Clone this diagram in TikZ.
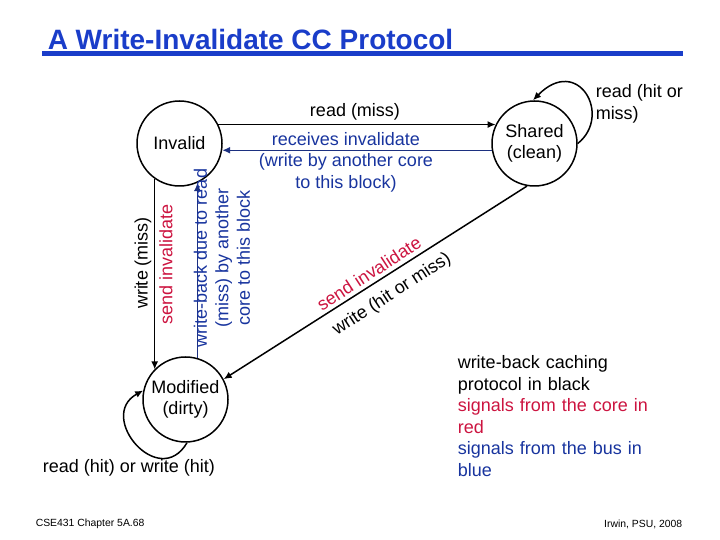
\documentclass[tikz,border=0pt]{standalone}
\usepackage{fontspec}
\setmainfont{Liberation Sans}
\usetikzlibrary{arrows.meta}
\definecolor{titleblue}{RGB}{26,61,201}
\definecolor{corered}{RGB}{204,20,64}
\definecolor{busblue}{RGB}{24,52,158}
\definecolor{busline}{RGB}{28,48,128}

\begin{document}
\begin{tikzpicture}[x=1pt,y=1pt,line width=1.5pt,
    font=\fontsize{18}{21.5}\selectfont,
    state/.style={draw,circle,minimum size=85pt,inner sep=1pt,align=center},
    core/.style={-{Latex[length=8pt,width=7pt]}},
    bus/.style={draw=busline,-{Latex[length=8pt,width=7pt]}},
    small/.style={font=\fontsize{10.4}{12}\selectfont,inner sep=0pt}]
\useasboundingbox (0,0) rectangle (720,540);
% title
\node[anchor=base west,inner sep=0pt,text=titleblue,
      font=\fontsize{28}{32}\selectfont\bfseries] (ttl) at (47,490) {A Write-Invalidate CC Protocol};
\fill[titleblue] (42,484) rectangle (683,489);

% states
\node[state] (inv) at (179.5,396.5) {Invalid};
\node[state] (mod) at (185.5,140.5) {Modified\\(dirty)};
\node[state] (shd) at (534.5,396.5) {Shared\\(clean)};

% transitions
\draw[core] (inv.26) -- (shd.154);
\node (rdmiss) at (355,428) {read (miss)};
\draw[bus] (shd.189) -- (inv.351);
\node[text=busblue,align=center] (rcvinv) at (346,378) {receives invalidate\\(write by another core\\to this block)};

\draw[core] (inv.235) -- (inv.235 |- mod.136);
\node[rotate=90] (wrmiss) at (143,277) {write (miss)};
\node[rotate=90,text=corered] (sndinv1) at (166,276) {send invalidate};
\draw[bus] (mod.74) -- (mod.74 |- inv.294);
\node[rotate=90,text=busblue,align=center] (wbread) at (222,282) {write-back due to read\\(miss) by another\\core to this block};

\draw[core] (shd.260) -- (mod.28);
\node[rotate=33,text=corered] (sndinv2) at (369,266.5) {send invalidate};
\node[rotate=33] (wrhit) at (392,245.5) {write (hit or miss)};

% self loops
\draw[core] (shd.0) .. controls +(35,28) and +(45,46) .. (shd.92);
\node[anchor=north west,align=left,inner sep=0pt] (rdhm) at (595,456) {read (hit or\\miss)};
\draw[core] (mod.272) .. controls +(-28,-48) and +(-47,-26) .. (mod.168);
\node (rdwr) at (129,72) {read (hit) or write (hit)};

% legend
\node[anchor=north west,text width=230pt,align=left,inner sep=0pt] (legend) at (457,185)
  {write-back caching\\protocol in black\\\color{corered}signals from the core in\\red\\\color{busblue}signals from the bus in\\blue};

% footer
\node[small,anchor=west] (chap) at (35,16) {CSE431 Chapter 5A.68};
\node[small,anchor=east] (auth) at (683,16) {Irwin, PSU, 2008};
\end{tikzpicture}
\end{document}
